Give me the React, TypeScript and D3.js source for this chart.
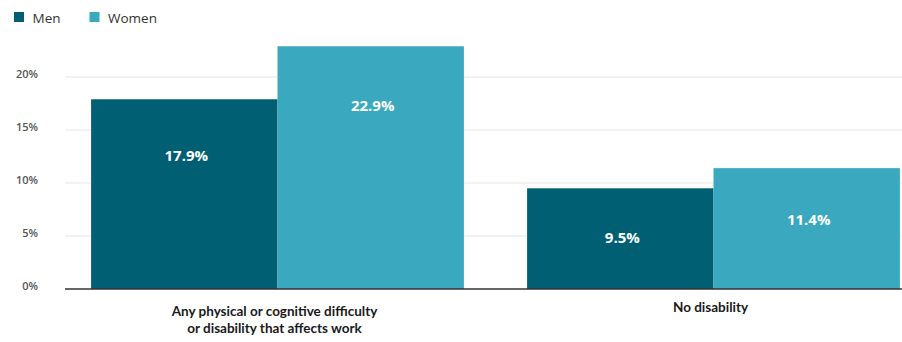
import React from "react";
import * as d3 from "d3";

const categories = [
  ["Any physical or cognitive difficulty", "or disability that affects work"],
  ["No disability"],
];
const seriesNames = ["Men", "Women"];
const menValues = [17.9, 9.5];
const womenValues = [22.9, 11.4];
const yTicks = [0, 5, 10, 15, 20];

const colors = ["#005f73", "#3aa8be"];
const W = 902;
const H = 342;
const FONT = "'Open Sans', 'Noto Sans', sans-serif";

export default function App() {
  const y = d3.scaleLinear().domain([0, 20]).range([289, 77]);
  const x0 = d3
    .scaleBand<number>()
    .domain([0, 1])
    .range([59.5, 931.5])
    .paddingInner(0.145)
    .paddingOuter(0.0725);
  const x1 = d3
    .scaleBand<number>()
    .domain([0, 1])
    .range([0, x0.bandwidth()]);
  const series = [menValues, womenValues];

  return (
    <svg
      width={W}
      height={H}
      style={{ position: "absolute", left: 0, top: 0, fontFamily: FONT }}
    >
      {/* legend */}
      {seriesNames.map((n, i) => (
        <g key={n} transform={`translate(${i === 0 ? 14 : 89.5},12)`}>
          <rect width={10} height={10} fill={colors[i]} />
          <text x={18.5} y={10.5} fontSize={13.5} fill="#333">
            {n}
          </text>
        </g>
      ))}
      {/* grid */}
      {yTicks.map((t) => (
        <g key={t}>
          {t > 0 && (
            <line x1={65} x2={902} y1={y(t)} y2={y(t)} stroke="#e6e6e6" strokeWidth={1} />
          )}
          <text
            x={38}
            y={y(t) + 1}
            textAnchor="end"
            fontSize={11}
            fontWeight={600}
            fill="#555"
          >
            {t}%
          </text>
        </g>
      ))}
      {/* bars */}
      {categories.map((c, ci) =>
        series.map((vals, si) => {
          const v = vals[ci];
          const bx = (x0(ci) as number) + (x1(si) as number);
          const top = y(v);
          const h = y(0) - top;
          return (
            <g key={`${ci}-${si}`}>
              <rect x={bx} y={top} width={x1.bandwidth()} height={h} fill={colors[si]} />
              <text
                x={bx + x1.bandwidth() / 2 + 2}
                y={top + 48 + 0.07 * h}
                textAnchor="middle"
                fontSize={15}
                fontWeight={700}
                fill="#fff"
              >
                {v.toFixed(1)}%
              </text>
            </g>
          );
        })
      )}
      <line x1={65} x2={902} y1={y(0)} y2={y(0)} stroke="#333" strokeWidth={1.5} />
      {/* category labels */}
      {categories.map((lines, ci) => (
        <text
          key={ci}
          x={(x0(ci) as number) + x0.bandwidth() / 2 - 3}
          y={lines.length > 1 ? 316 : 312}
          textAnchor="middle"
          fontSize={13.5}
          fontWeight={700}
          fontFamily="Lato, 'Open Sans', sans-serif"
          fill="#1a1a1a"
        >
          {lines.map((l, li) => (
            <tspan key={li} x={(x0(ci) as number) + x0.bandwidth() / 2 - 3} dy={li === 0 ? 0 : 17}>
              {l}
            </tspan>
          ))}
        </text>
      ))}
    </svg>
  );
}
